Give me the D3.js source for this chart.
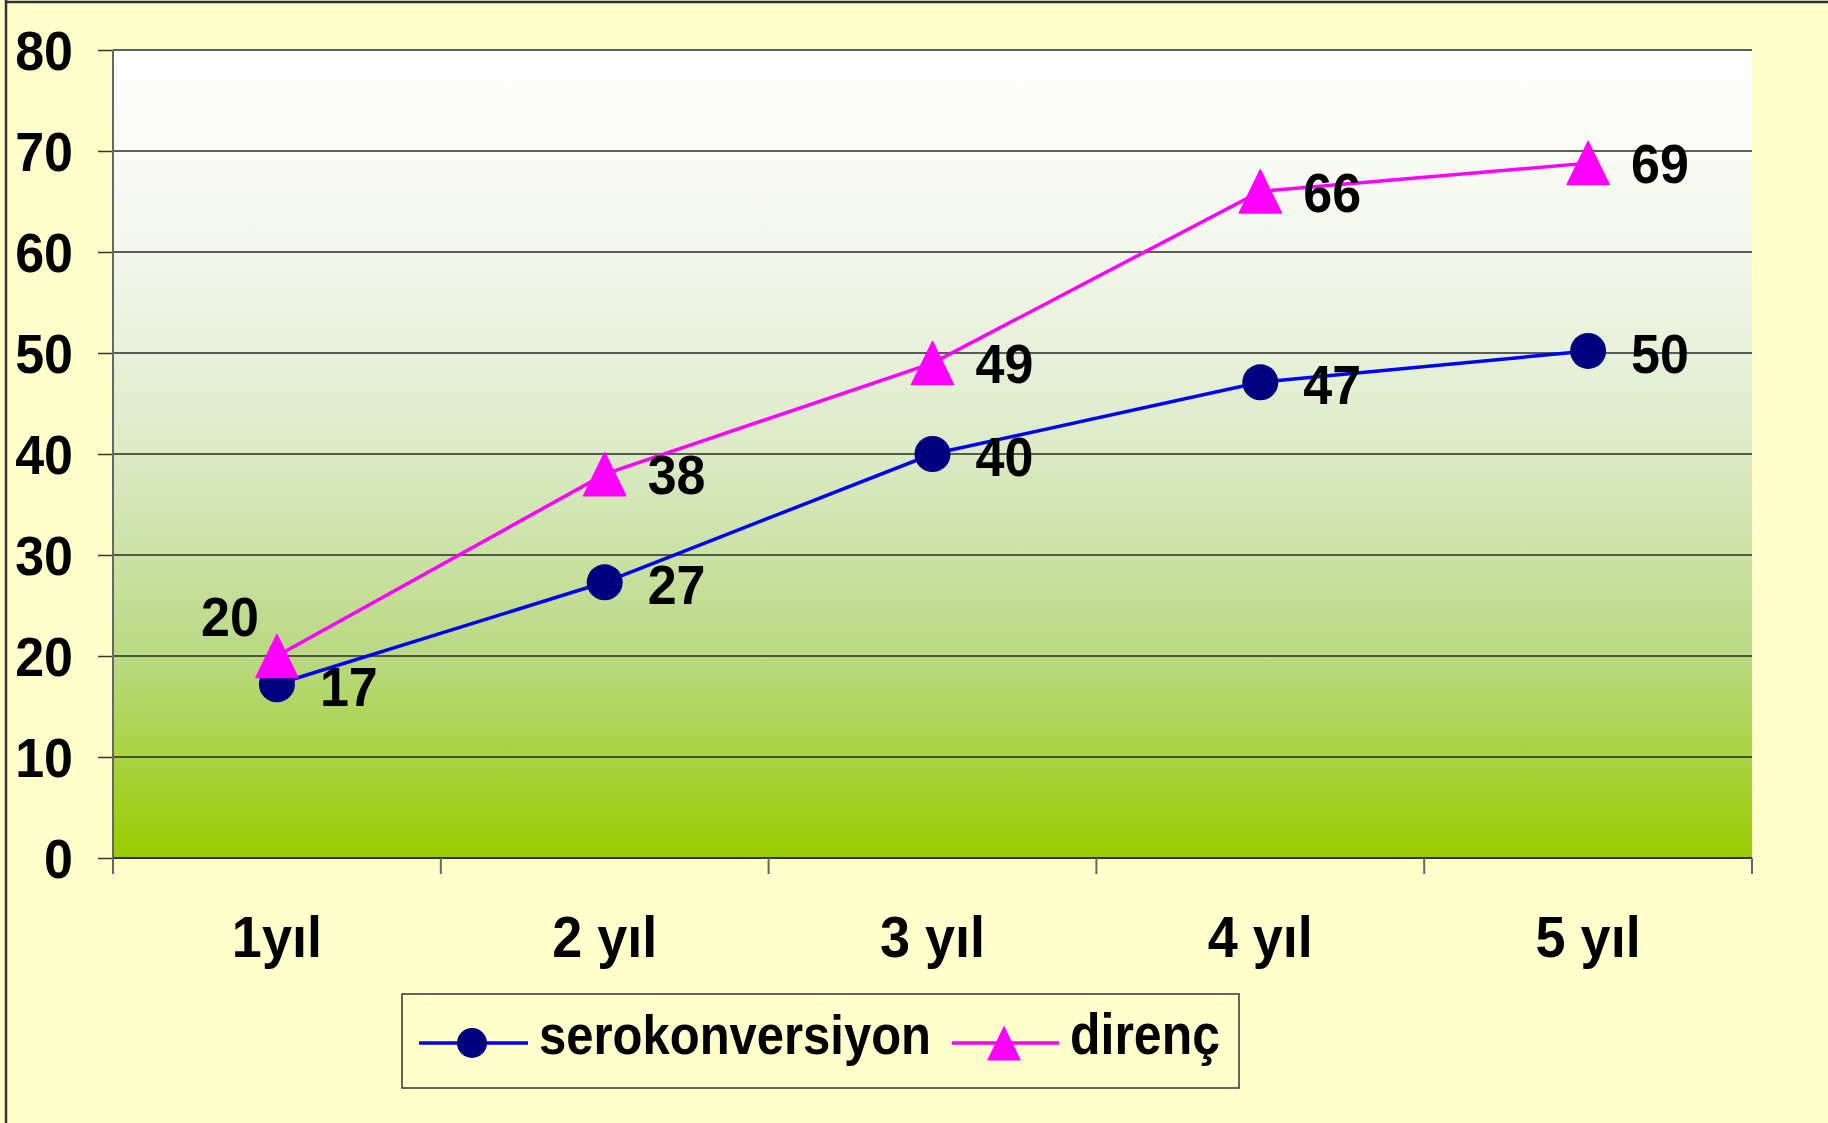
<!DOCTYPE html>
<html><head><meta charset="utf-8">
<script src="https://cdn.jsdelivr.net/npm/d3@7"></script>
<style>html,body{margin:0;padding:0;background:#FFFFCC;}svg{display:block;}</style>
</head><body>
<script>
const categories = ["1yıl", "2 yıl", "3 yıl", "4 yıl", "5 yıl"];
const serokonversiyon = [17.2, 27.3, 40, 47.1, 50.2];
const direnc = [20, 38, 49, 66, 68.8];
const yTicks = [0, 10, 20, 30, 40, 50, 60, 70, 80];
const seriesNames = ["serokonversiyon", "direnç"];

const W = 1828, H = 1123;
const plot = {l: 113, r: 1752, t: 50, b: 858};
const svg = d3.select("body").append("svg").attr("width", W).attr("height", H);
svg.append("rect").attr("width", W).attr("height", H).attr("fill", "#FFFFCC");
svg.append("line").attr("x1", 6).attr("x2", 6).attr("y1", 0).attr("y2", H).attr("stroke", "#333").attr("stroke-width", 2.5);
svg.append("line").attr("x1", 6).attr("x2", W).attr("y1", 2).attr("y2", 2).attr("stroke", "#333").attr("stroke-width", 2.5);

const defs = svg.append("defs");
const g = defs.append("linearGradient").attr("id", "bg").attr("x1", 0).attr("x2", 0).attr("y1", 0).attr("y2", 1);
[[0, "#FFFFFF"], [0.25, "#F3F7EC"], [0.5, "#DCEAC6"], [0.75, "#B9D982"], [1, "#99CC00"]]
  .forEach(([o, c]) => g.append("stop").attr("offset", o).attr("stop-color", c));

const x = d3.scaleBand().domain(categories).range([plot.l, plot.r]).padding(0);
const y = d3.scaleLinear().domain([0, 80]).range([plot.b, plot.t]);
const cx = c => x(c) + x.bandwidth() / 2;
const fmt = d3.format(".0f");

svg.append("rect").attr("x", plot.l).attr("y", plot.t).attr("width", plot.r - plot.l).attr("height", plot.b - plot.t).attr("fill", "url(#bg)");

// gridlines
svg.append("g").selectAll("line").data(yTicks.filter(d => d > 0)).join("line")
  .attr("x1", plot.l).attr("x2", plot.r).attr("y1", d => y(d)).attr("y2", d => y(d))
  .attr("stroke", "#2a2a2a").attr("stroke-width", 1.5);

// y axis
const yAxis = svg.append("g").attr("transform", `translate(${plot.l},0)`)
  .call(d3.axisLeft(y).tickValues(yTicks).tickSize(15).tickFormat(""));
yAxis.select(".domain").remove();
yAxis.selectAll(".tick line").attr("stroke", "#333").attr("stroke-width", 1.5);
svg.append("line").attr("x1", plot.l).attr("x2", plot.l).attr("y1", plot.t).attr("y2", plot.b + 16).attr("stroke", "#666").attr("stroke-width", 2);

// x axis
svg.append("line").attr("x1", plot.l).attr("x2", plot.r).attr("y1", plot.b).attr("y2", plot.b).attr("stroke", "#333").attr("stroke-width", 2);
const bounds = categories.map(c => x(c)).concat([x.range()[1]]);
svg.append("g").selectAll("line").data(bounds).join("line")
  .attr("x1", d => d).attr("x2", d => d).attr("y1", plot.b).attr("y2", plot.b + 16)
  .attr("stroke", "#666").attr("stroke-width", 2);

const FONT = "'Liberation Sans', Arial, sans-serif";
function txt(sel, xx, yy, s, anchor, size, sy) {
  sel.append("text").attr("transform", `translate(${xx},${yy}) scale(1,${sy})`)
    .attr("text-anchor", anchor).attr("font-family", FONT).attr("font-weight", "bold")
    .attr("font-size", size).attr("fill", "#000").text(s);
}
const SY = 1.08, FS = 52, half = 0.716 * FS * SY / 2;

yTicks.forEach(t => txt(svg, 73, y(t) + half, String(t), "end", FS, SY));
categories.forEach(c => txt(svg, cx(c), 957, c, "middle", 54, 1.05));

// lines
const line = d3.line().x(d => cx(d.c)).y(d => y(d.v));
const sData = categories.map((c, i) => ({c, v: serokonversiyon[i]}));
const dData = categories.map((c, i) => ({c, v: direnc[i]}));
svg.append("path").datum(sData).attr("d", line).attr("fill", "none").attr("stroke", "#0000FF").attr("stroke-width", 3.5);
svg.append("path").datum(dData).attr("d", line).attr("fill", "none").attr("stroke", "#FF00FF").attr("stroke-width", 3.5);

svg.append("g").selectAll("circle").data(sData).join("circle")
  .attr("cx", d => cx(d.c)).attr("cy", d => y(d.v)).attr("r", 18).attr("fill", "#000080");
const tri = (w, h) => `M0,${-h / 2}L${w / 2},${h / 2}L${-w / 2},${h / 2}Z`;
svg.append("g").selectAll("path").data(dData).join("path")
  .attr("transform", d => `translate(${cx(d.c)},${y(d.v)})`)
  .attr("d", tri(42, 43)).attr("fill", "#FF00FF").attr("stroke", "#FF00FF").attr("stroke-width", 1.5).attr("stroke-linejoin", "round");

// data labels
sData.forEach(d => txt(svg, cx(d.c) + 43, y(d.v) + half + 2, fmt(d.v), "start", FS, SY));
dData.forEach((d, i) => {
  if (i === 0) txt(svg, cx(d.c) - 47, y(d.v) - 40 + half, fmt(d.v), "middle", FS, SY);
  else txt(svg, cx(d.c) + 43, y(d.v) + half, fmt(d.v), "start", FS, SY);
});

// legend
const lg = svg.append("g");
lg.append("rect").attr("x", 402).attr("y", 994).attr("width", 837).attr("height", 94)
  .attr("fill", "#FFFFCC").attr("stroke", "#333").attr("stroke-width", 1.5);
const ly = 1043;
lg.append("line").attr("x1", 419).attr("x2", 528).attr("y1", ly).attr("y2", ly).attr("stroke", "#0000FF").attr("stroke-width", 3.5);
lg.append("circle").attr("cx", 472).attr("cy", ly).attr("r", 15).attr("fill", "#000080");
txt(lg, 539, 1054, seriesNames[0], "start", 49, 1.13);
lg.append("line").attr("x1", 952).attr("x2", 1059).attr("y1", ly).attr("y2", ly).attr("stroke", "#FF00FF").attr("stroke-width", 3.5);
lg.append("path").attr("transform", `translate(1004,${ly})`).attr("d", tri(34, 35)).attr("fill", "#FF00FF");
txt(lg, 1070, 1054, seriesNames[1], "start", 50, 1.13);
</script>
</body></html>
